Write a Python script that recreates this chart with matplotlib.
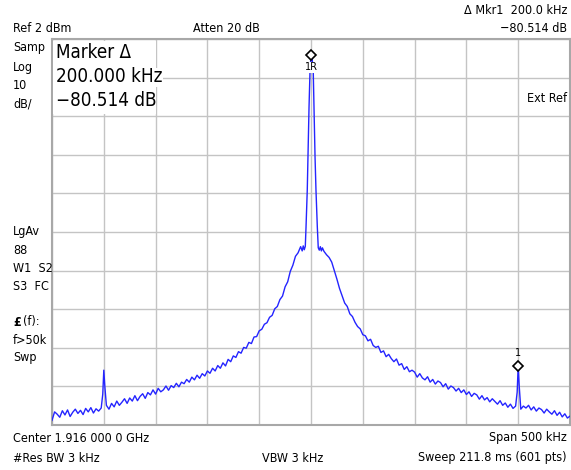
import matplotlib
matplotlib.use("Agg")
import matplotlib.pyplot as plt
from matplotlib.patches import Rectangle

FONT = ["DejaVu Sans"]
STRETCH = "condensed"

# trace: offset from center (kHz) and level (dBm)
freq_khz = [
    -250, -247.5, -245, -242.5, -240, -237.5, -235, -232.5, -230, -227.5,
    -225, -222.5, -220, -217.5, -215, -212.5, -210, -207.5, -205, -202.5,
    -201, -200, -199, -197.5, -195, -192.5, -190, -187.5, -185, -182.5,
    -180, -177.5, -175, -172.5, -170, -167.5, -165, -162.5, -160, -157.5,
    -155, -152.5, -150, -147.5, -145, -142.5, -140, -137.5, -135, -132.5,
    -130, -127.5, -125, -122.5, -120, -117.5, -115, -112.5, -110, -107.5,
    -105, -102.5, -100, -97.5, -95, -92.5, -90, -87.5, -85, -82.5,
    -80, -77.5, -75, -72.5, -70, -67.5, -65, -62.5, -60, -57.5,
    -55, -52.5, -50, -47.5, -45, -42.5, -40, -37.5, -35, -32.5,
    -30, -27.5, -25, -22.5, -20, -17.5, -15, -12.5, -10, -8.5,
    -7.5, -6.5, -5.5, -4.8, -3.6, -2.6, -1.9, -1.0, 0, 1.0,
    2.2, 2.9, 3.9, 4.8, 6.1, 7.0, 8, 9, 10, 11,
    12.5, 15, 17.5, 20, 22.5, 25, 27.5, 30, 32.5, 35,
    37.5, 40, 42.5, 45, 47.5, 50, 52.5, 55, 57.5, 60,
    62.5, 65, 67.5, 70, 72.5, 75, 77.5, 80, 82.5, 85,
    87.5, 90, 92.5, 95, 97.5, 100, 102.5, 105, 107.5, 110,
    112.5, 115, 117.5, 120, 122.5, 125, 127.5, 130, 132.5, 135,
    137.5, 140, 142.5, 145, 147.5, 150, 152.5, 155, 157.5, 160,
    162.5, 165, 167.5, 170, 172.5, 175, 177.5, 180, 182.5, 185,
    187.5, 190, 192.5, 195, 197.5, 199, 200, 201, 202.5, 205,
    207.5, 210, 212.5, 215, 217.5, 220, 222.5, 225, 227.5, 230,
    232.5, 235, 237.5, 240, 242.5, 245, 247.5, 250,
]
level_dbm = [
    -96.8, -94.6, -95.2, -96.0, -94.3, -95.4, -94.1, -95.8, -94.7, -93.9,
    -95.0, -94.2, -95.3, -93.7, -94.6, -93.5, -94.9, -93.8, -94.4, -93.6,
    -90.0, -83.8, -88.0, -92.9, -93.9, -92.4, -93.3, -91.8, -92.9, -92.1,
    -91.2, -92.4, -91.0, -91.8, -90.4, -91.7, -90.6, -89.9, -91.1, -89.6,
    -90.2, -88.9, -90.0, -88.5, -89.4, -88.9, -87.9, -89.0, -87.8, -88.3,
    -87.2, -88.1, -86.9, -87.3, -86.2, -86.9, -85.6, -86.3, -85.1, -85.9,
    -84.7, -85.3, -84.0, -84.6, -83.3, -84.0, -82.6, -83.3, -81.9, -82.7,
    -81.0, -81.6, -80.1, -80.5, -79.0, -79.4, -77.9, -78.1, -76.6, -76.9,
    -75.2, -75.1, -73.6, -73.2, -71.9, -71.5, -70.1, -69.6, -67.9, -67.3,
    -65.5, -64.6, -62.2, -60.9, -58.2, -56.6, -54.3, -53.4, -51.8, -52.9,
    -51.6, -52.6, -51.7, -46.7, -37.1, -24.2, -15.6, -6.8, -2.1, -2.6,
    -6.8, -15.6, -28.6, -37.1, -46.7, -52.1, -52.7, -51.8, -52.9, -52.1,
    -53.0, -53.9, -54.6, -55.8, -58.0, -60.2, -62.6, -64.5, -66.4, -67.3,
    -69.2, -69.9, -71.4, -72.5, -73.1, -74.6, -74.9, -76.2, -75.8, -77.4,
    -77.9, -77.6, -79.2, -78.8, -80.3, -79.7, -80.8, -81.6, -80.9, -82.5,
    -82.1, -83.6, -82.9, -84.2, -83.8, -84.3, -85.6, -84.7, -85.8, -86.3,
    -85.5, -86.9, -86.2, -87.4, -86.6, -87.0, -88.1, -87.3, -88.7, -87.9,
    -88.3, -89.2, -88.5, -89.6, -88.9, -90.1, -89.4, -90.6, -89.8, -90.2,
    -91.3, -90.4, -91.5, -90.9, -92.0, -91.2, -91.9, -92.6, -91.7, -92.9,
    -92.3, -93.4, -92.6, -93.7, -93.1, -89.5, -82.6, -88.0, -93.9, -93.1,
    -93.6, -92.9, -94.1, -93.3, -94.4, -93.6, -94.0, -94.9, -93.9, -94.6,
    -95.2, -94.3, -95.5, -94.7, -95.9, -95.1, -96.2, -95.7,
]

ref_level = 2
db_per_div = 10
span_khz = 500

W, H = 571, 470
fig = plt.figure(figsize=(W / 100, H / 100), dpi=100)
ax = fig.add_axes([52 / W, 45 / H, 518 / W, 386 / H])

ax.plot(freq_khz, level_dbm, color="#2424ff", lw=1.0, zorder=3)
ax.set_xlim(-span_khz / 2, span_khz / 2)
ax.set_ylim(ref_level - 10 * db_per_div, ref_level)
ax.set_xticks(range(-250, 251, 50))
ax.set_yticks(range(ref_level - 100, ref_level + 1, db_per_div))
ax.tick_params(length=0, labelbottom=False, labelleft=False)
ax.grid(True, color="#c4c4c4", lw=1.0)
for s in ax.spines.values():
    s.set_color("#a8a8a8")
    s.set_linewidth(1.5)

# markers
ax.plot(0, -2.1, marker="D", ms=5, mfc="white", mec="black", mew=1.2, zorder=5)
ax.annotate("1R", (0, -2.1), xytext=(0, -9), textcoords="offset points",
            ha="center", va="center", fontsize=7, family=FONT, zorder=6,
            bbox=dict(fc="white", ec="none", pad=0.2))
ax.plot(200, -82.6, marker="D", ms=5, mfc="white", mec="black", mew=1.2, zorder=5)
ax.annotate("1", (200, -82.6), xytext=(0, 9), textcoords="offset points",
            ha="center", va="center", fontsize=7, family=FONT, zorder=6)


def txt(x, y, s, **kw):
    kw.setdefault("fontsize", 9)
    kw.setdefault("family", FONT)
    kw.setdefault("fontstretch", STRETCH)
    kw.setdefault("va", "center")
    fig.text(x / W, 1 - y / H, s, **kw)


# marker readout box
fig.add_artist(Rectangle((53 / W, 1 - 114 / H), 103 / W, 73 / H,
                         transform=fig.transFigure, fc="white", ec="none",
                         zorder=4))
big = dict(fontsize=13.5, zorder=5)
txt(56, 53, "Marker Δ", **big)
txt(56, 77, "200.000 kHz", bbox=dict(fc="white", ec="none", pad=0), **big)
txt(56, 100, "−80.514 dB", **big)

# header
txt(567, 10, "Δ Mkr1  200.0 kHz", ha="right")
txt(13, 28, "Ref 2 dBm")
txt(193, 28, "Atten 20 dB")
txt(567, 28, "−80.514 dB", ha="right")

# left annotation column
for y, s in [(47, "Samp"), (67, "Log"), (86, "10"), (104, "dB/"),
             (231, "LgAv"), (250, "88"), (268, "W1  S2"), (287, "S3  FC"),
             (340, "f>50k"), (358, "Swp")]:
    txt(13, y, s)
txt(13, 322, "£", fontweight="bold")
txt(23, 322, "(f):")
txt(567, 98, "Ext Ref", ha="right")

# footer
txt(13, 438, "Center 1.916 000 0 GHz")
txt(567, 438, "Span 500 kHz", ha="right")
txt(13, 458, "#Res BW 3 kHz")
txt(262, 458, "VBW 3 kHz")
txt(567, 458, "Sweep 211.8 ms (601 pts)", ha="right")

fig.savefig("out.png", dpi=100)
